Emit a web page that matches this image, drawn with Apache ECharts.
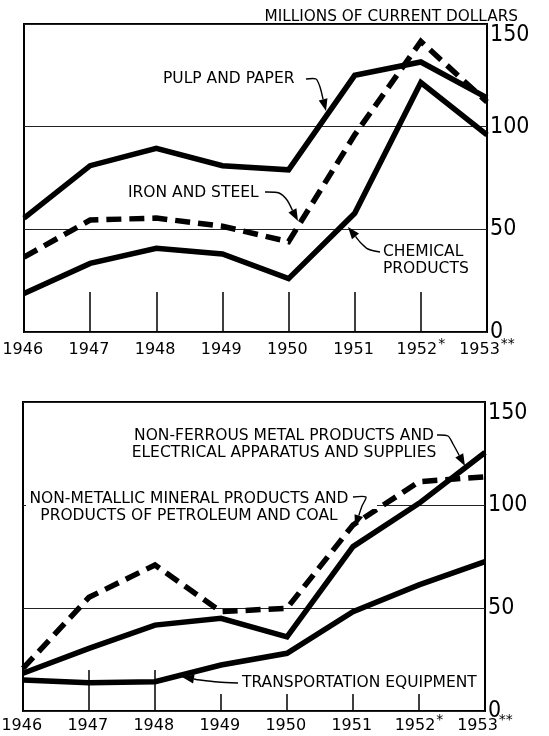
<!DOCTYPE html>
<html>
<head>
<meta charset="utf-8">
<script src="https://cdn.jsdelivr.net/npm/echarts@6/dist/echarts.min.js"></script>
<style>
  html, body { margin: 0; padding: 0; background: #fff; }
  #main { width: 549px; height: 736px; }
</style>
</head>
<body>
<div id="main"></div>
<script>
// years on both panels
const years = ["1946", "1947", "1948", "1949", "1950", "1951", "1952", "1953"];
const yTicks = [0, 50, 100, 150];

// top panel
const pulpPaper = [55.5, 81, 89.5, 81, 79, 125, 131.5, 114];
const ironSteel = [36.5, 54.5, 55.5, 51.5, 44, 96, 141.5, 112];
const chemical = [18.8, 33.4, 40.8, 38, 26, 57.8, 121.5, 96];

// bottom panel
const nonFerrous = [18.3, 30.4, 41.7, 45, 36, 79.8, 100.8, 125.5];
const nonMetallic = [20.7, 55.2, 70.9, 48.2, 49.9, 90.3, 111.3, 113.7];
const transport = [15, 13.7, 14.2, 22.3, 28, 48.2, 61.2, 72.5];

const chart = echarts.init(document.getElementById("main"));

const labelFont = "DejaVu Sans";
const numFont = "'Liberation Sans Narrow', 'Arial Narrow', 'DejaVu Sans Condensed', 'Liberation Sans', sans-serif";

// every label gets a raised token so all labels have the same height
function yearLabel(v) {
  if (v === "1952") return v + "{s|*}";
  if (v === "1953") return v + "{s|**}";
  return v + "{s|\u200A}";
}

function xAxis(gridIndex, margin, tickLen, tickIdx, showLabel) {
  return {
    type: "category",
    gridIndex: gridIndex,
    data: years,
    boundaryGap: false,
    position: "bottom",
    axisLine: { show: false },
    axisTick: {
      show: true,
      inside: true,
      length: tickLen,
      interval: (i) => tickIdx.indexOf(i) >= 0,
      lineStyle: { color: "#000", width: 1.5 },
    },
    axisLabel: {
      show: showLabel,
      interval: 0,
      margin: margin,
      color: "#000",
      fontFamily: labelFont,
      fontSize: 16,
      formatter: yearLabel,
      rich: {
        s: { fontSize: 14, fontFamily: labelFont, color: "#000", padding: [0, 0, 12, 1] },
      },
    },
    splitLine: { show: false },
  };
}

function yAxis(gridIndex) {
  return {
    type: "value",
    gridIndex: gridIndex,
    position: "right",
    min: 0,
    max: 150,
    interval: 50,
    axisLine: { show: false },
    axisTick: { show: false },
    axisLabel: {
      margin: 3,
      color: "#000",
      fontFamily: numFont,
      fontSize: 23,
      formatter: (v) => {
        if (v === 150) return "{t|150}";
        return yTicks.indexOf(v) >= 0 ? String(v) : "";
      },
      rich: {
        t: { fontFamily: numFont, fontSize: 23, color: "#000", padding: [22, 0, 0, 0] },
      },
    },
    splitLine: { show: true, lineStyle: { color: "#222", width: 1 } },
  };
}

function line(name, data, xi, yi, dashed) {
  return {
    name: name,
    type: "line",
    data: data,
    xAxisIndex: xi,
    yAxisIndex: yi,
    symbol: "none",
    silent: true,
    lineStyle: {
      color: "#000",
      width: 5.5,
      type: dashed ? [15, 8] : "solid",
      join: "miter",
      cap: "butt",
    },
    z: dashed ? 3 : 4,
  };
}

// leader line with an arrow head at the last point
function arrow(pts) {
  const n = pts.length;
  const p1 = pts[n - 2], p2 = pts[n - 1];
  const a = Math.atan2(p2[1] - p1[1], p2[0] - p1[0]);
  const L = 12, W = 4.5;
  const bx = p2[0] - L * Math.cos(a), by = p2[1] - L * Math.sin(a);
  const left = [bx - W * Math.sin(a), by + W * Math.cos(a)];
  const right = [bx + W * Math.sin(a), by - W * Math.cos(a)];
  return [
    {
      type: "polyline",
      shape: { points: pts.slice(0, n - 1).concat([[bx, by]]), smooth: 0.25 },
      style: { stroke: "#000", lineWidth: 1.4, fill: null },
      z: 100,
    },
    {
      type: "polygon",
      shape: { points: [p2, left, right] },
      style: { fill: "#000" },
      z: 100,
    },
  ];
}

function note(text, x, y, align) {
  return {
    type: "text",
    x: x,
    y: y,
    z: 90,
    style: {
      text: text,
      fill: "#000",
      font: "15.5px " + labelFont,
      align: align || "left",
      verticalAlign: "middle",
      lineHeight: 17,
    },
  };
}

const graphics = [
  // gap in the 100 line behind the non-metallic label
  { type: "rect", shape: { x: 26, y: 503, width: 351, height: 6 }, style: { fill: "#fff" }, z: 50 },
  note("PULP AND PAPER", 163, 79),
  note("IRON AND STEEL", 128, 193),
  note("CHEMICAL\nPRODUCTS", 383, 260),
  note("NON-FERROUS METAL PRODUCTS AND\nELECTRICAL APPARATUS AND SUPPLIES", 284, 444, "center"),
  note("NON-METALLIC MINERAL PRODUCTS AND\nPRODUCTS OF PETROLEUM AND COAL", 189, 507, "center"),
  note("TRANSPORTATION EQUIPMENT", 242, 683),
]
  .concat(arrow([[306, 79], [316, 79], [320, 87], [326, 111]]))
  .concat(arrow([[265, 192], [279, 193], [287, 200], [298, 221]]))
  .concat(arrow([[380, 252], [368, 249], [360, 242], [348, 227]]))
  .concat(arrow([[437, 435], [448, 436], [453, 444], [465, 466]]))
  .concat(arrow([[353, 497], [366, 497], [362, 506], [355, 527]]))
  .concat(arrow([[238, 683], [218, 682], [200, 680], [182, 677]]));

const gridBase = {
  show: true,
  borderColor: "#000",
  borderWidth: 2,
  backgroundColor: "transparent",
  containLabel: false,
  outerBoundsMode: "none",
};

const option = {
  backgroundColor: "#fff",
  animation: false,
  title: {
    text: "MILLIONS OF CURRENT DOLLARS",
    right: 26,
    top: 5,
    textStyle: { color: "#000", fontFamily: labelFont, fontSize: 15.3, fontWeight: "normal" },
  },
  grid: [
    Object.assign({ left: 24, right: 62, top: 24, height: 308 }, gridBase),
    Object.assign({ left: 23, right: 64, top: 402, height: 309 }, gridBase),
  ],
  xAxis: [
    xAxis(0, 5, 40, [1, 2, 3, 4, 5, 6], true),
    xAxis(1, 2, 41, [1, 2], true),
    xAxis(1, 2, 17, [3, 4, 5, 6], false),
  ],
  yAxis: [yAxis(0), yAxis(1)],
  series: [
    line("Pulp and paper", pulpPaper, 0, 0, false),
    line("Iron and steel", ironSteel, 0, 0, true),
    line("Chemical products", chemical, 0, 0, false),
    line("Non-ferrous metal products and electrical apparatus and supplies", nonFerrous, 1, 1, false),
    line("Non-metallic mineral products and products of petroleum and coal", nonMetallic, 1, 1, true),
    line("Transportation equipment", transport, 1, 1, false),
  ],
  graphic: { elements: graphics },
};

chart.setOption(option);
window.onresize = function () {
  chart.resize();
};
</script>
</body>
</html>
